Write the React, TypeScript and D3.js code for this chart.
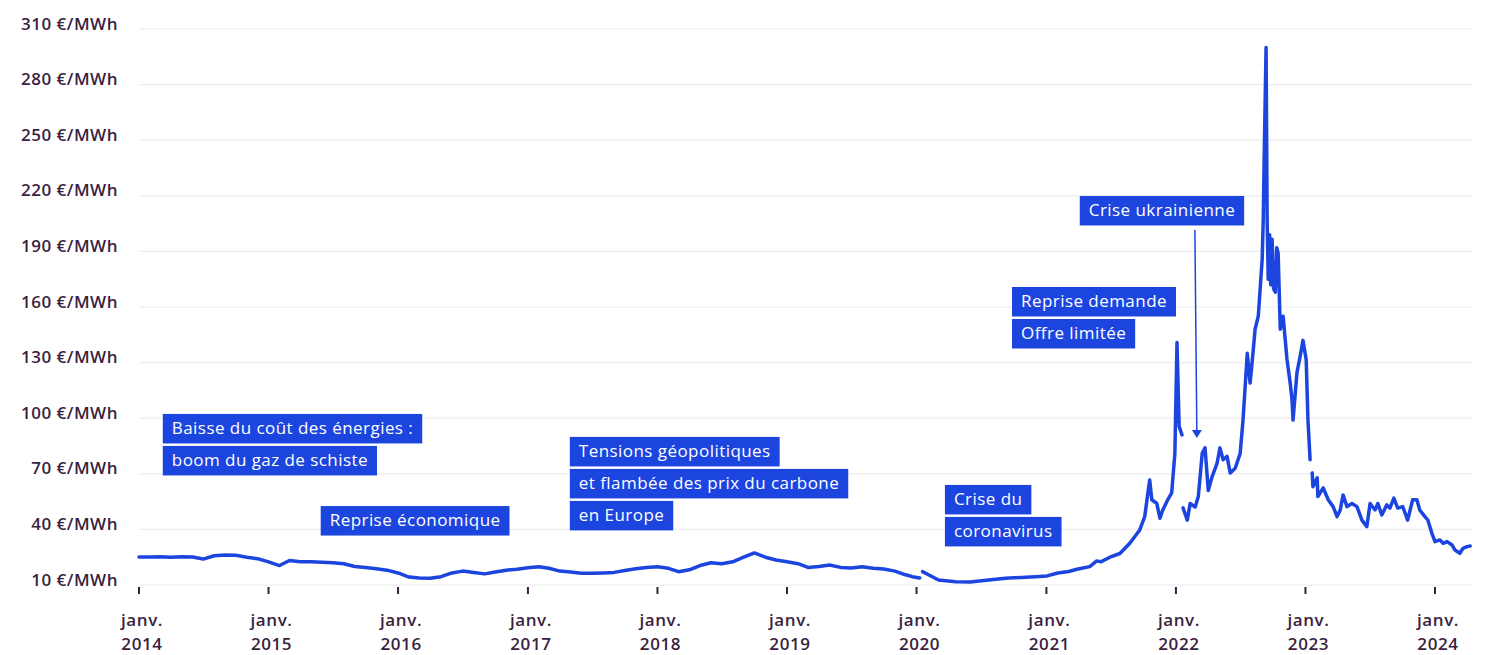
import { useEffect, useRef } from 'react';
import * as d3 from 'd3';

const W = 1489;
const H = 655;
const FONT = "'Open Sans', sans-serif";
const BLUE = '#1c45e0';
const INK = '#3b1f3f';

// gas wholesale price, €/MWh (null = break in the series)
const priceDates = [
  '2014-01-01', '2014-02-01', '2014-03-01', '2014-04-01', '2014-05-01', '2014-06-01',
  '2014-07-01', '2014-08-01', '2014-09-01', '2014-10-01', '2014-11-01', '2014-12-01',
  '2015-01-01', '2015-02-01', '2015-03-01', '2015-04-01', '2015-05-01', '2015-06-01',
  '2015-07-01', '2015-08-01', '2015-09-01', '2015-10-01', '2015-11-01', '2015-12-01',
  '2016-01-01', '2016-02-01', '2016-03-01', '2016-04-01', '2016-05-01', '2016-06-01',
  '2016-07-01', '2016-08-01', '2016-09-01', '2016-10-01', '2016-11-01', '2016-12-01',
  '2017-01-01', '2017-02-01', '2017-03-01', '2017-04-01', '2017-05-01', '2017-06-01',
  '2017-07-01', '2017-08-01', '2017-09-01', '2017-10-01', '2017-11-01', '2017-12-01',
  '2018-01-01', '2018-02-01', '2018-03-01', '2018-04-01', '2018-05-01', '2018-06-01',
  '2018-07-01', '2018-08-01', '2018-09-01', '2018-10-01', '2018-11-01', '2018-12-01',
  '2019-01-01', '2019-02-01', '2019-03-01', '2019-04-01', '2019-05-01', '2019-06-01',
  '2019-07-01', '2019-08-01', '2019-09-01', '2019-10-01', '2019-11-01', '2019-12-01',
  '2019-12-20', '2020-01-10', '2020-01-14', '2020-01-18', '2020-02-05', '2020-03-03',
  '2020-04-20', '2020-06-01', '2020-07-22', '2020-09-08', '2020-10-23', '2020-12-01',
  '2021-01-03', '2021-02-02', '2021-03-05', '2021-03-28', '2021-05-03', '2021-05-23',
  '2021-06-03', '2021-06-29', '2021-07-27', '2021-08-24', '2021-09-21', '2021-10-05',
  '2021-10-19', '2021-10-25', '2021-11-08', '2021-11-17', '2021-11-25', '2021-12-09',
  '2021-12-20', '2021-12-29', '2022-01-04', '2022-01-10', '2022-01-18', '2022-01-20',
  '2022-01-21', '2022-02-02', '2022-02-10', '2022-02-24', '2022-03-05', '2022-03-16',
  '2022-03-24', '2022-04-02', '2022-04-13', '2022-04-27', '2022-05-05', '2022-05-14',
  '2022-05-25', '2022-06-03', '2022-06-17', '2022-07-01', '2022-07-09', '2022-07-21',
  '2022-07-29', '2022-08-07', '2022-08-12', '2022-08-21', '2022-09-01', '2022-09-04',
  '2022-09-07', '2022-09-12', '2022-09-15', '2022-09-18', '2022-09-22', '2022-09-25',
  '2022-09-29', '2022-10-03', '2022-10-08', '2022-10-12',
  '2022-10-16', '2022-10-22', '2022-10-30', '2022-11-10', '2022-11-19', '2022-11-24',
  '2022-11-27', '2022-12-08', '2022-12-17', '2022-12-25', '2023-01-03', '2023-01-08',
  '2023-01-14', '2023-01-17', '2023-01-20', '2023-01-22', '2023-02-03', '2023-02-05',
  '2023-02-20', '2023-03-06', '2023-03-20', '2023-03-31', '2023-04-09', '2023-04-17',
  '2023-04-28', '2023-05-12', '2023-05-26', '2023-06-09', '2023-06-23', '2023-07-02',
  '2023-07-16', '2023-07-24', '2023-08-04', '2023-08-18', '2023-08-27', '2023-09-07',
  '2023-09-18', '2023-10-02', '2023-10-16', '2023-10-30', '2023-11-11', '2023-11-19',
  '2023-12-03', '2023-12-12', '2023-12-23', '2024-01-01', '2024-01-15', '2024-01-24',
  '2024-02-04', '2024-02-18', '2024-02-26', '2024-03-11', '2024-03-20', '2024-03-31',
  '2024-04-09',
];

const priceValues: (number | null)[] = [
  25.1, 25.1, 25.2, 25.0, 25.3, 25.1,
  24.0, 25.8, 26.2, 26.0, 25.0, 24.2,
  22.5, 20.5, 23.2, 22.6, 22.5, 22.3,
  22.0, 21.5, 20.0, 19.5, 18.8, 18.0,
  16.5, 14.3, 13.8, 13.6, 14.5, 16.5,
  17.5, 16.8, 16.0, 17.0, 18.0, 18.5,
  19.3, 19.9, 19.0, 17.5, 17.0, 16.4,
  16.3, 16.5, 16.8, 17.8, 18.8, 19.5,
  19.9, 19.0, 17.2, 18.2, 20.5, 22.0,
  21.5, 22.5, 25.0, 27.3, 25.0, 23.5,
  22.5, 21.5, 19.5, 20.0, 20.8, 19.5,
  19.2, 19.8, 19.0, 18.6, 17.5, 15.5,
  14.5, 13.8, null, 17.2, 15.4, 12.7,
  11.8, 11.6, 12.7, 13.6, 14.1, 14.5,
  14.9, 16.5, 17.3, 18.5, 19.9, 23.0,
  22.5, 25.0, 27.0, 32.5, 39.7, 46.9,
  66.7, 56.0, 54.0, 46.0, 50.5, 56.0,
  59.7, 81.0, 140.8, 95.6, 91.0, null,
  51.6, 45.0, 54.0, 52.0, 57.7, 81.0,
  84.0, 61.0, 68.5, 75.8, 84.0, 77.6,
  79.4, 70.4, 73.0, 81.0, 99.0, 135.0,
  119.0, 137.0, 148.0, 155.0, 185.7, 207.0,
  245.0, 300.0, 207.0, 175.0, 199.0, 172.0,
  196.5, 170.0, 168.0, 192.0,
  189.0, 148.0, 155.0, 131.6, 119.0, 110.0,
  99.0, 124.6, 133.4, 142.0, 131.6, 99.0,
  77.6, null, 70.5, 63.0, 67.8, 57.7,
  62.4, 56.0, 52.3, 46.9, 50.5, 58.6,
  52.3, 54.0, 52.3, 45.0, 41.5, 54.0,
  50.5, 54.0, 47.8, 53.2, 51.5, 56.9,
  51.5, 52.3, 45.0, 56.0, 56.0, 50.5,
  47.0, 45.0, 38.0, 33.4, 34.3, 32.5,
  33.4, 31.6, 28.9, 27.1, 29.8, 30.7,
  31.0,
];

const yTicks = [10, 40, 70, 100, 130, 160, 190, 220, 250, 280, 310];
const xTickYears = [2014, 2015, 2016, 2017, 2018, 2019, 2020, 2021, 2022, 2023, 2024];
const xTickMonth = 'janv.';

const annotations = [
  { lines: ['Baisse du coût des énergies :', 'boom du gaz de schiste'], date: '2014-03-09', value: 102.3 },
  { lines: ['Reprise économique'], date: '2015-05-28', value: 52.6 },
  { lines: ['Tensions géopolitiques', 'et flambée des prix du carbone', 'en Europe'], date: '2017-04-29', value: 89.9 },
  { lines: ['Crise du', 'coronavirus'], date: '2020-03-21', value: 64 },
  { lines: ['Reprise demande', 'Offre limitée'], date: '2020-09-26', value: 170.8 },
  { lines: ['Crise ukrainienne'], date: '2021-04-05', value: 219.9 },
];

const arrow = { date: '2022-03-01', from: 201.6, to: 89.3 };

export default function App() {
  const ref = useRef<SVGSVGElement>(null);

  useEffect(() => {
    if (!ref.current) return;
    const svg = d3.select(ref.current);
    svg.selectAll('*').remove();

    const parse = d3.timeParse('%Y-%m-%d');
    const x = d3
      .scaleTime()
      .domain([parse('2014-01-01')!, parse('2024-01-01')!])
      .range([139, 1435]);
    const y = d3.scaleLinear().domain([10, 310]).range([585, 29]);
    const gridRight = 1472;

    // gridlines
    svg
      .append('g')
      .selectAll('line')
      .data(yTicks)
      .join('line')
      .attr('x1', 139)
      .attr('x2', gridRight)
      .attr('y1', (d) => y(d))
      .attr('y2', (d) => y(d))
      .attr('stroke', '#ececf1')
      .attr('stroke-width', 1.2);

    // y labels
    svg
      .append('g')
      .selectAll('text')
      .data(yTicks)
      .join('text')
      .attr('x', 118)
      .attr('y', (d) => y(d) - 4)
      .attr('text-anchor', 'end')
      .attr('dominant-baseline', 'middle')
      .attr('font-family', FONT)
      .attr('font-size', 17)
      .attr('font-weight', 600)
      .attr('fill', INK)
      .attr('letter-spacing', 0.5)
      .text((d) => `${d} €/MWh`);

    // x ticks
    const xt = svg
      .append('g')
      .selectAll('g')
      .data(xTickYears)
      .join('g')
      .attr('transform', (d) => `translate(${x(new Date(d, 0, 1))},0)`);
    xt.append('line').attr('y1', 587).attr('y2', 594).attr('stroke', INK).attr('stroke-width', 2);
    const xl = xt
      .append('text')
      .attr('text-anchor', 'middle')
      .attr('font-family', FONT)
      .attr('font-size', 17)
      .attr('font-weight', 600)
      .attr('letter-spacing', 0.6)
      .attr('fill', INK);
    xl.append('tspan').attr('x', 3).attr('y', 626).text(xTickMonth);
    xl.append('tspan').attr('x', 3).attr('y', 649.5).text((d) => String(d));

    // price line
    const pts = priceDates.map((d, i) => ({ date: parse(d)!, value: priceValues[i] }));
    const line = d3
      .line<{ date: Date; value: number | null }>()
      .defined((d) => d.value !== null)
      .x((d) => x(d.date))
      .y((d) => y(d.value as number));
    svg
      .append('path')
      .datum(pts)
      .attr('fill', 'none')
      .attr('stroke', BLUE)
      .attr('stroke-width', 3.5)
      .attr('stroke-linejoin', 'round')
      .attr('stroke-linecap', 'round')
      .attr('d', line);

    // annotation boxes
    const rowH = 32;
    const boxH = 29.5;
    const padX = 9;
    annotations.forEach((a) => {
      const x0 = x(parse(a.date)!);
      const y0 = y(a.value);
      a.lines.forEach((t, i) => {
        const g = svg.append('g').attr('transform', `translate(${x0},${y0 + i * rowH})`);
        const rect = g.append('rect').attr('height', boxH).attr('fill', BLUE);
        const txt = g
          .append('text')
          .attr('x', padX)
          .attr('y', boxH / 2 + 1)
          .attr('dominant-baseline', 'middle')
          .attr('font-family', FONT)
          .attr('font-size', 17)
          .attr('letter-spacing', 0.45)
          .attr('fill', '#ffffff')
          .text(t);
        const len = (txt.node() as SVGTextElement).getComputedTextLength();
        rect.attr('width', len + padX * 2);
      });
    });

    // arrow to the ukraine crisis
    const ax = x(parse(arrow.date)!);
    const ty = y(arrow.to);
    svg
      .append('line')
      .attr('x1', ax - 2)
      .attr('x2', ax)
      .attr('y1', y(arrow.from))
      .attr('y2', ty - 2)
      .attr('stroke', BLUE)
      .attr('stroke-width', 1.5);
    svg
      .append('path')
      .attr('d', `M${ax - 5},${ty - 8} L${ax + 5},${ty - 8} L${ax},${ty} Z`)
      .attr('fill', BLUE);
  }, []);

  return (
    <svg
      ref={ref}
      width={W}
      height={H}
      style={{ position: 'absolute', left: 0, top: 0, display: 'block', background: '#fff' }}
    />
  );
}
